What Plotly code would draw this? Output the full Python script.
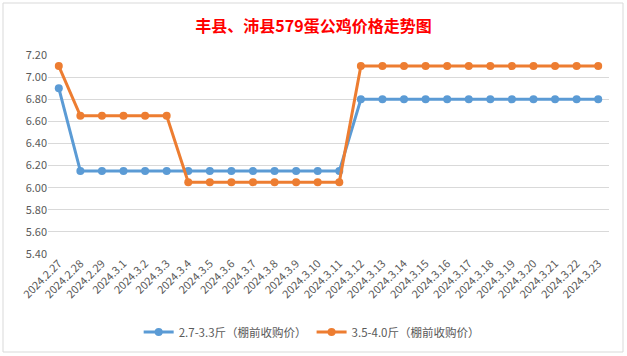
import plotly.graph_objects as go

categories = ["2024.2.27", "2024.2.28", "2024.2.29", "2024.3.1", "2024.3.2", "2024.3.3",
              "2024.3.4", "2024.3.5", "2024.3.6", "2024.3.7", "2024.3.8", "2024.3.9",
              "2024.3.10", "2024.3.11", "2024.3.12", "2024.3.13", "2024.3.14", "2024.3.15",
              "2024.3.16", "2024.3.17", "2024.3.18", "2024.3.19", "2024.3.20", "2024.3.21",
              "2024.3.22", "2024.3.23"]
small_price = [6.90, 6.15, 6.15, 6.15, 6.15, 6.15, 6.15, 6.15, 6.15, 6.15, 6.15, 6.15, 6.15,
               6.15, 6.80, 6.80, 6.80, 6.80, 6.80, 6.80, 6.80, 6.80, 6.80, 6.80, 6.80, 6.80]
large_price = [7.10, 6.65, 6.65, 6.65, 6.65, 6.65, 6.05, 6.05, 6.05, 6.05, 6.05, 6.05, 6.05,
               6.05, 7.10, 7.10, 7.10, 7.10, 7.10, 7.10, 7.10, 7.10, 7.10, 7.10, 7.10, 7.10]
series_names = ["2.7-3.3斤（棚前收购价）", "3.5-4.0斤（棚前收购价）"]
y_ticks = [5.40, 5.60, 5.80, 6.00, 6.20, 6.40, 6.60, 6.80, 7.00, 7.20]
title_text = "丰县、沛县579蛋公鸡价格走势图"

font_family = "Noto Sans CJK SC, Noto Sans, sans-serif"

fig = go.Figure()
fig.add_trace(go.Scatter(x=categories, y=small_price, name=series_names[0], mode="lines+markers",
                         line=dict(color="#5B9BD5", width=3), marker=dict(size=8, color="#5B9BD5")))
fig.add_trace(go.Scatter(x=categories, y=large_price, name=series_names[1], mode="lines+markers",
                         line=dict(color="#ED7D31", width=3), marker=dict(size=8, color="#ED7D31")))

fig.update_layout(
    width=627, height=356,
    margin=dict(l=48, r=18, t=55, b=102, autoexpand=False),
    paper_bgcolor="white", plot_bgcolor="white",
    font=dict(family=font_family, color="#595959"),
    title=dict(text="<b>" + title_text + "</b>", x=0.5, xanchor="center",
               yref="container", y=1 - 26 / 356, yanchor="middle",
               font=dict(size=16, color="#FF0000", family=font_family)),
    showlegend=True,
    legend=dict(orientation="h", x=0.47, xanchor="center", yref="container",
                y=1 - 332 / 356, yanchor="middle",
                font=dict(size=11.5, color="#595959"), itemwidth=30),
    shapes=[dict(type="rect", xref="paper", yref="paper", x0=-45 / 561, x1=(561 + 14) / 561,
                 y0=-98 / 199, y1=(199 + 52) / 199, line=dict(color="#D9D9D9", width=1))],
)
fig.update_xaxes(type="category", range=[-0.5, len(categories) - 0.5], tickangle=-45,
                 tickfont=dict(size=11, color="#595959"), showgrid=False, showline=False,
                 ticks="", automargin=False)
fig.update_yaxes(range=[5.4, 7.2], tickvals=y_ticks, tickformat=".2f", gridcolor="#D9D9D9",
                 gridwidth=1, zeroline=False, showline=False, ticks="", automargin=False,
                 tickfont=dict(size=11, color="#595959"))

fig.write_html("out.html", config={"displayModeBar": False},
               post_script="document.body.style.margin='0';document.body.style.overflow='hidden';")
